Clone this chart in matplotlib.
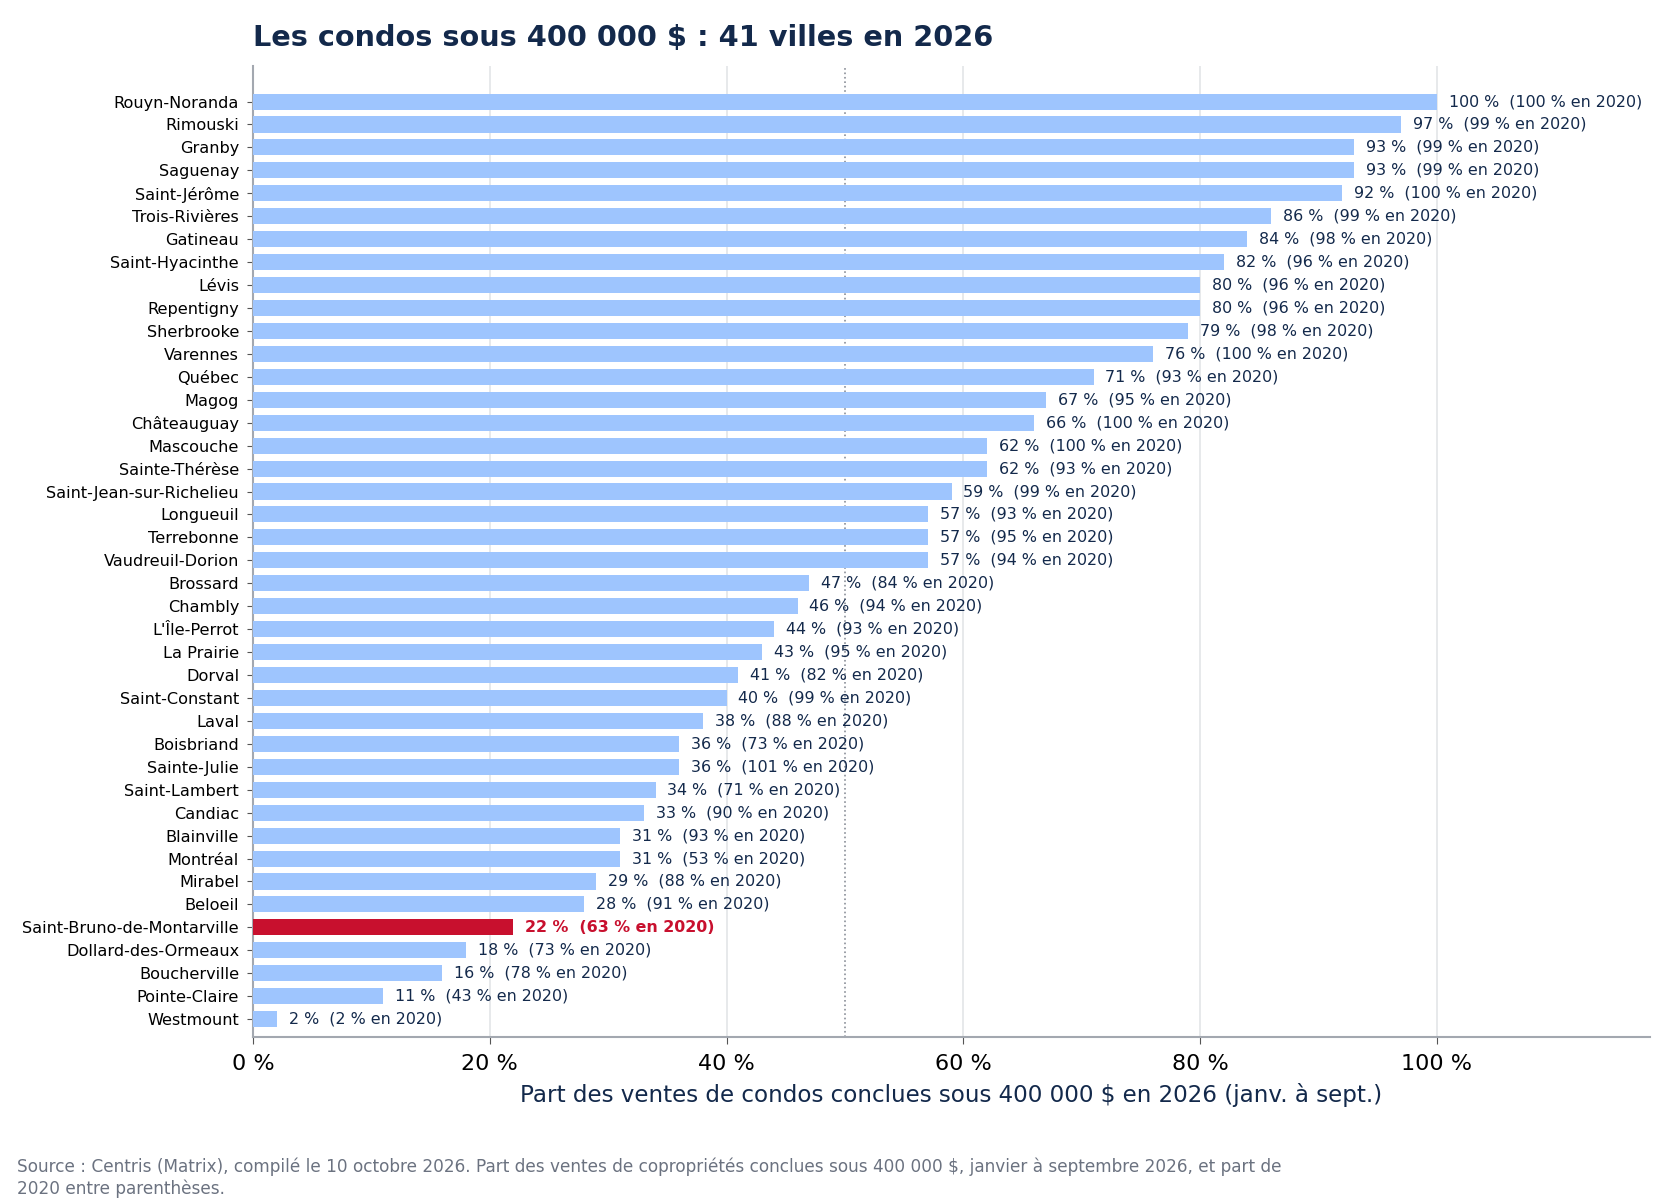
import matplotlib.pyplot as plt
from matplotlib.ticker import FuncFormatter

villes = ["Rouyn-Noranda", "Rimouski", "Granby", "Saguenay", "Saint-Jérôme",
          "Trois-Rivières", "Gatineau", "Saint-Hyacinthe", "Lévis", "Repentigny",
          "Sherbrooke", "Varennes", "Québec", "Magog", "Châteauguay", "Mascouche",
          "Sainte-Thérèse", "Saint-Jean-sur-Richelieu", "Longueuil", "Terrebonne",
          "Vaudreuil-Dorion", "Brossard", "Chambly", "L'Île-Perrot", "La Prairie",
          "Dorval", "Saint-Constant", "Laval", "Boisbriand", "Sainte-Julie",
          "Saint-Lambert", "Candiac", "Blainville", "Montréal", "Mirabel", "Beloeil",
          "Saint-Bruno-de-Montarville", "Dollard-des-Ormeaux", "Boucherville",
          "Pointe-Claire", "Westmount"]
part_2026 = [100, 97, 93, 93, 92, 86, 84, 82, 80, 80, 79, 76, 71, 67, 66, 62, 62,
             59, 57, 57, 57, 47, 46, 44, 43, 41, 40, 38, 36, 36, 34, 33, 31, 31,
             29, 28, 22, 18, 16, 11, 2]
part_2020 = [100, 99, 99, 99, 100, 99, 98, 96, 96, 96, 98, 100, 93, 95, 100, 100,
             93, 99, 93, 95, 94, 84, 94, 93, 95, 82, 99, 88, 73, 101, 71, 90, 93,
             53, 88, 91, 63, 73, 78, 43, 2]
vedette = "Saint-Bruno-de-Montarville"

navy = "#13294b"
bleu = "#9ec5fe"
rouge = "#c8102e"

fig = plt.figure(figsize=(16.8, 12.04), dpi=100)
ax = fig.add_axes([253/1680, 1-1037/1204, (1650-253)/1680, (1037-66)/1204])

ypos = list(range(len(villes)))
couleurs = [rouge if v == vedette else bleu for v in villes]
ax.barh(ypos, part_2026, height=0.7, color=couleurs, zorder=3)

for y, v, a, ville in zip(ypos, part_2026, part_2020, villes):
    hl = ville == vedette
    ax.text(v + 1.0, y, f"{v} %  ({a} % en 2020)", va="center", ha="left",
            fontsize=11.4, color=rouge if hl else navy,
            fontweight="bold" if hl else "normal", zorder=4)

ax.axvline(50, color="#8a8f98", linestyle=":", linewidth=1.2, zorder=2)

ax.set_xlim(0, 118)
ax.set_ylim(len(villes) - 0.22, -1.55)
ax.set_yticks(ypos)
ax.set_yticklabels(villes, fontsize=11.6)
ax.set_xticks([0, 20, 40, 60, 80, 100])
ax.xaxis.set_major_formatter(FuncFormatter(lambda x, p: f"{int(x)} %"))
ax.tick_params(axis="x", labelsize=16, length=5, pad=7, color="#555")
ax.tick_params(axis="y", length=4, pad=6, color="#555")
ax.grid(axis="x", color="#e3e5e8", linewidth=1.2, zorder=0)
ax.set_axisbelow(True)

for s in ["top", "right"]:
    ax.spines[s].set_visible(False)
for s in ["left", "bottom"]:
    ax.spines[s].set_color("#a3a8b0")
    ax.spines[s].set_linewidth(1.5)

ax.set_xlabel("Part des ventes de condos conclues sous 400 000 $ en 2026 (janv. à sept.)",
              fontsize=16.6, color=navy, labelpad=7)

fig.text(253/1680, 1 - 38/1204, "Les condos sous 400 000 $ : 41 villes en 2026",
         fontsize=20.7, fontweight="bold", color=navy, ha="left", va="center")

fig.text(17/1680, 1 - 1158/1204,
         "Source : Centris (Matrix), compilé le 10 octobre 2026. Part des ventes de copropriétés conclues sous 400 000 $, janvier à septembre 2026, et part de\n2020 entre parenthèses.",
         fontsize=12.15, color="#6b7280", ha="left", va="top", linespacing=1.22)

fig.savefig("out.png", dpi=100)
